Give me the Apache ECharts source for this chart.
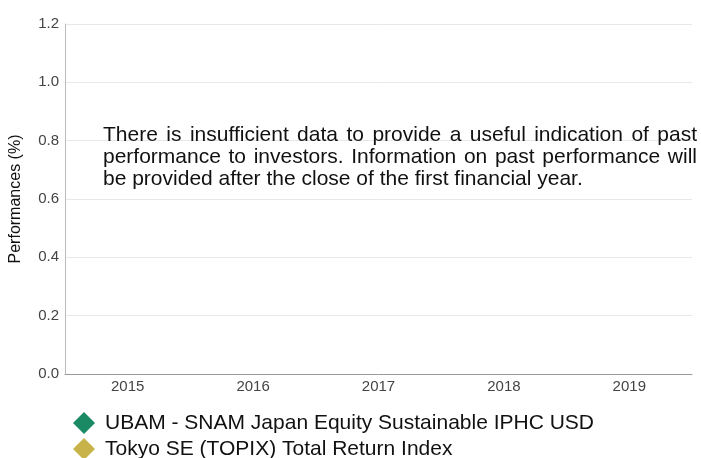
<!DOCTYPE html>
<html><head><meta charset="utf-8">
<script src="https://cdn.jsdelivr.net/npm/echarts@6/dist/echarts.min.js"></script>
<style>html,body{margin:0;padding:0;background:#fff}#c{width:701px;height:458px}</style>
</head><body><div id="c"></div>
<script>
var categories = ['2015','2016','2017','2018','2019'];
var seriesNames = ['UBAM - SNAM Japan Equity Sustainable IPHC USD','Tokyo SE (TOPIX) Total Return Index'];
var fundValues = [];
var indexValues = [];
var colors = ['#1a8a64','#c8b34b'];
var noticeLines = ['There is insufficient data to provide a useful indication of past',
  'performance to investors. Information on past performance will',
  'be provided after the close of the first financial year.'];

var FONT = '21px Liberation Sans, Arial, sans-serif';
var ctx = document.createElement('canvas').getContext('2d');
ctx.font = FONT;
var textLeft = 103, textTop = 125, textWidth = 594, lineH = 22;
var graphics = [];
noticeLines.forEach(function(line, i){
  var y = textTop + i*lineH;
  if (i === noticeLines.length-1) {
    graphics.push({type:'text',left:textLeft,top:y,z:100,silent:true,style:{text:line,fill:'#111',font:FONT}});
    return;
  }
  var words = line.split(' ');
  var total = 0;
  words.forEach(function(w){ total += ctx.measureText(w).width; });
  var gap = (textWidth - total)/(words.length-1);
  var x = textLeft;
  words.forEach(function(w){
    graphics.push({type:'text',left:Math.round(x*10)/10,top:y,z:100,silent:true,style:{text:w,fill:'#111',font:FONT}});
    x += ctx.measureText(w).width + gap;
  });
});

var chart = echarts.init(document.getElementById('c'));
chart.setOption({
  animation:false,
  color:colors,
  textStyle:{fontFamily:'Liberation Sans, Arial, sans-serif'},
  grid:{left:65,right:9,top:24,bottom:84,containLabel:false,outerBoundsMode:'none'},
  xAxis:{type:'category',data:categories,
    axisLine:{show:true,lineStyle:{color:'#999'}},axisTick:{show:false},
    axisLabel:{color:'#444',fontSize:15,margin:5},splitLine:{show:false}},
  yAxis:{type:'value',min:0,max:1.2,interval:0.2,name:'Performances (%)',nameLocation:'middle',nameGap:41,
    nameTextStyle:{color:'#111',fontSize:16},
    axisLine:{show:true,lineStyle:{color:'#bbb'}},axisTick:{show:false},
    axisLabel:{color:'#444',fontSize:15,margin:6,formatter:function(v){return v.toFixed(1);}},
    splitLine:{show:true,lineStyle:{color:'#e8e8e8'}}},
  legend:{orient:'vertical',left:68,top:407,height:60,itemGap:4,icon:'diamond',itemWidth:22,itemHeight:22,
    textStyle:{color:'#111',fontSize:21,padding:[0,0,0,5]},data:seriesNames},
  graphic:graphics,
  series:[
    {name:seriesNames[0],type:'line',data:fundValues},
    {name:seriesNames[1],type:'line',data:indexValues}
  ]
});
</script></body></html>
